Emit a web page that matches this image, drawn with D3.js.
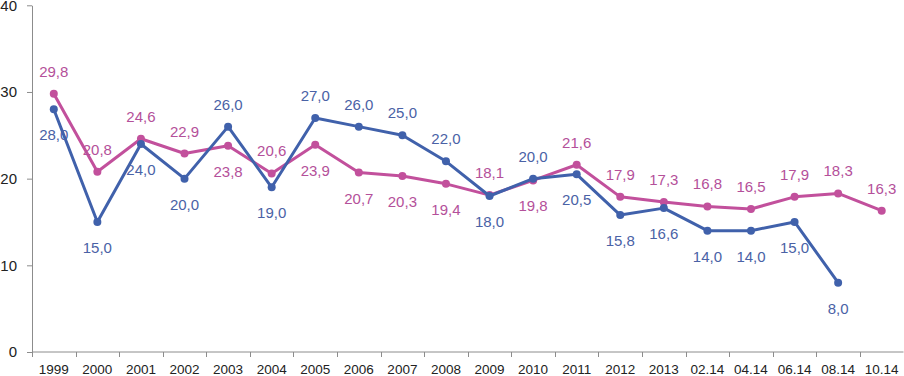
<!DOCTYPE html>
<html>
<head>
<meta charset="utf-8">
<script src="https://cdn.jsdelivr.net/npm/d3@7/dist/d3.min.js"></script>
<style>
  body { margin: 0; background: #fff; }
  svg { display: block; font-family: "Liberation Sans", Arial, sans-serif; }
  .axis path, .axis line { stroke: #8c8c8c; }
  .axis text { fill: #222; }
</style>
</head>
<body>
<div id="chart"></div>
<script>
// categories and series
const categories = ["1999", "2000", "2001", "2002", "2003", "2004", "2005", "2006", "2007", "2008",
  "2009", "2010", "2011", "2012", "2013", "02.14", "04.14", "06.14", "08.14", "10.14"];
const blueValues = [28.0, 15.0, 24.0, 20.0, 26.0, 19.0, 27.0, 26.0, 25.0, 22.0,
  18.0, 20.0, 20.5, 15.8, 16.6, 14.0, 14.0, 15.0, 8.0, null];
const pinkValues = [29.8, 20.8, 24.6, 22.9, 23.8, 20.6, 23.9, 20.7, 20.3, 19.4,
  18.1, 19.8, 21.6, 17.9, 17.3, 16.8, 16.5, 17.9, 18.3, 16.3];
// label placement: 1 = above the point, -1 = below
const blueLabelSide = [-1, -1, -1, -1, 1, -1, 1, 1, 1, 1, -1, 1, -1, -1, -1, -1, -1, -1, -1, 0];
const pinkLabelSide = [1, 1, 1, 1, -1, 1, -1, -1, -1, -1, 1, -1, 1, 1, 1, 1, 1, 1, 1, 1];
const yTicks = [0, 10, 20, 30, 40];

const width = 904, height = 376;
const margin = { top: 5, right: 0, bottom: 24, left: 32 };

const svg = d3.select("#chart").append("svg")
  .attr("width", width)
  .attr("height", height);

const x = d3.scaleBand().domain(categories).range([margin.left, 903.5]);
const y = d3.scaleLinear().domain([0, 40]).range([height - margin.bottom, margin.top + 0.3]);

// x axis with ticks on band edges
const xAxisG = svg.append("g").attr("class", "axis")
  .attr("transform", `translate(0,${y(0)})`)
  .call(d3.axisBottom(x).tickSize(0).tickPadding(12));
xAxisG.select(".domain").attr("d", `M${margin.left},0H903.5`);
xAxisG.selectAll("text").attr("font-size", 13.5);
xAxisG.selectAll(".edge")
  .data(categories.map((c, i) => i).concat([categories.length]))
  .join("line")
  .attr("class", "edge")
  .attr("x1", i => Math.round(margin.left + i * x.step()) + 0.5)
  .attr("x2", i => Math.round(margin.left + i * x.step()) + 0.5)
  .attr("y1", 0).attr("y2", 5);

const yAxisG = svg.append("g").attr("class", "axis")
  .attr("transform", `translate(${margin.left},0)`)
  .call(d3.axisLeft(y).tickValues(yTicks).tickSize(5).tickSizeOuter(0).tickPadding(10));
yAxisG.selectAll("text").attr("font-size", 15);

const series = [
  { values: pinkValues, sides: pinkLabelSide, line: "#c2509c", text: "#b4509a" },
  { values: blueValues, sides: blueLabelSide, line: "#4061ab", text: "#4a62a6" }
];

const line = d3.line()
  .defined(d => d.v != null)
  .x(d => x(d.c) + x.bandwidth() / 2)
  .y(d => y(d.v));

series.forEach(s => {
  const pts = categories.map((c, i) => ({ c, v: s.values[i], side: s.sides[i] }));
  const g = svg.append("g");
  g.append("path")
    .datum(pts)
    .attr("fill", "none")
    .attr("stroke", s.line)
    .attr("stroke-width", 3)
    .attr("stroke-linejoin", "round")
    .attr("d", line);
  g.selectAll("circle")
    .data(pts.filter(d => d.v != null))
    .join("circle")
    .attr("cx", d => x(d.c) + x.bandwidth() / 2)
    .attr("cy", d => y(d.v))
    .attr("r", 4)
    .attr("fill", s.line);
  g.selectAll("text")
    .data(pts.filter(d => d.v != null))
    .join("text")
    .attr("x", d => x(d.c) + x.bandwidth() / 2)
    .attr("y", d => y(d.v) + (d.side > 0 ? -17 : 31))
    .attr("text-anchor", "middle")
    .attr("font-size", 15)
    .attr("fill", s.text)
    .text(d => d3.format(".1f")(d.v).replace(".", ","));
});
</script>
</body>
</html>
